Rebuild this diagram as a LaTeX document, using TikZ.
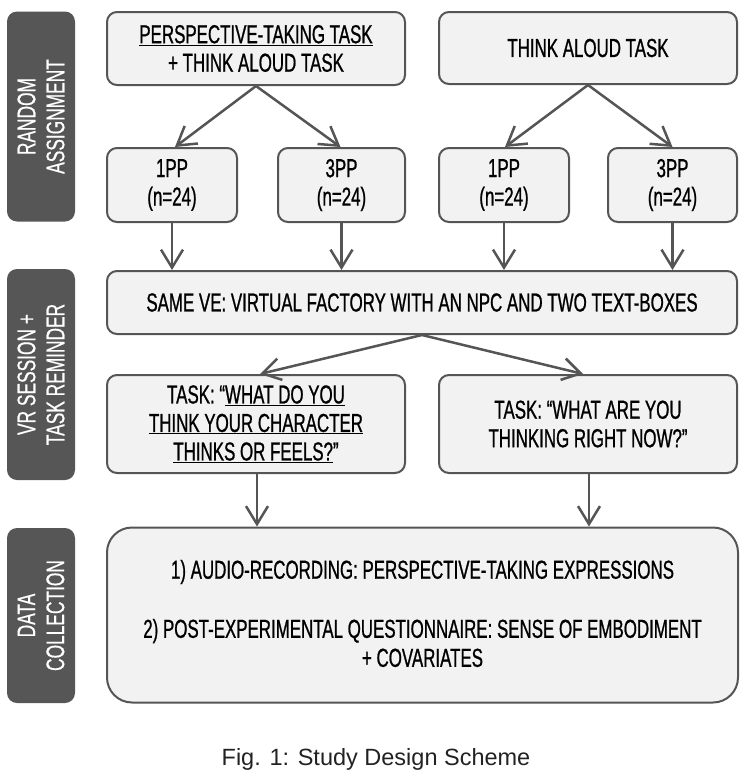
\documentclass[tikz,border=0pt]{standalone}
\usepackage{fontspec}
\setmainfont{Liberation Sans}
\newfontfamily\condfont[FakeStretch=0.65,FakeBold=0.8]{Liberation Sans}
\newfontfamily\sidefont[FakeStretch=0.68,FakeBold=0.5]{Liberation Sans}
\usetikzlibrary{arrows.meta}
\definecolor{edgegray}{HTML}{555555}
\definecolor{boxfill}{HTML}{F2F2F2}
\definecolor{barfill}{HTML}{565656}
\definecolor{captxt}{HTML}{222222}
\tikzset{
  box/.style={draw=edgegray, fill=boxfill, line width=2pt, rounded corners=10pt,
    align=center, inner sep=0pt, font=\condfont\fontsize{26}{28.5}\selectfont},
  sidebar/.style={fill=barfill, rounded corners=10pt, inner sep=0pt,
    text=white, align=center, rotate=90,
    font=\sidefont\fontsize{25.5}{29}\selectfont},
  flow/.style={draw=edgegray, line width=2.5pt,
    -{Straight Barb[length=18pt,width=22pt,line width=2.5pt]}}
}
\begin{document}
\begin{tikzpicture}[x=1pt,y=-1pt]
\useasboundingbox (0,0) rectangle (743,779);
% side bars
\node[sidebar, minimum width=210pt, minimum height=68pt] (s1) at (41,116.5) {RANDOM\\ASSIGNMENT};
\node[sidebar, minimum width=211pt, minimum height=68pt] (s2) at (41,374.5) {VR SESSION +\\TASK REMINDER};
\node[sidebar, minimum width=175pt, minimum height=68pt] (s3) at (41,615.5) {DATA\\COLLECTION};
% top row
\node[box, minimum width=298pt, minimum height=73pt] (ptt) at (256,48.5) {\underline{PERSPECTIVE-TAKING TASK}\\+ THINK ALOUD TASK};
\node[box, minimum width=298pt, minimum height=72pt] (ta) at (588,48) {THINK ALOUD TASK};
% groups
\node[box, minimum width=130pt, minimum height=74pt] (p1) at (172,185) {1PP\\(n=24)};
\node[box, minimum width=127pt, minimum height=74pt] (p2) at (341.5,185) {3PP\\(n=24)};
\node[box, minimum width=130pt, minimum height=74pt] (p3) at (504,185) {1PP\\(n=24)};
\node[box, minimum width=129pt, minimum height=74pt] (p4) at (672.5,185) {3PP\\(n=24)};
% VE
\node[box, minimum width=630pt, minimum height=63pt] (ve) at (422,302.5) {SAME VE: VIRTUAL FACTORY WITH AN NPC AND TWO TEXT-BOXES};
% tasks
\node[box, minimum width=298pt, minimum height=98pt] (tl) at (256,424) {TASK: “\underline{WHAT DO YOU}\\\underline{THINK YOUR CHARACTER}\\\underline{THINKS OR FEELS?}”};
\node[box, minimum width=298pt, minimum height=98pt] (tr) at (588,424) {TASK: “WHAT ARE YOU\\THINKING RIGHT NOW?”};
% data collection
\node[box, rounded corners=25pt, minimum width=631pt, minimum height=175pt] (dc) at (422.5,615) {};
\node[font=\condfont\fontsize{26}{28.5}\selectfont] (dc1) at (422.5,572) {1) AUDIO-RECORDING: PERSPECTIVE-TAKING EXPRESSIONS};
\node[font=\condfont\fontsize{26}{29}\selectfont, align=center] (dc2) at (422.5,643) {2) POST-EXPERIMENTAL QUESTIONNAIRE: SENSE OF EMBODIMENT\\+ COVARIATES};
% caption
\node[text=captxt, font=\fontsize{23.5}{27}\selectfont] (cap) at (376,759) {Fig. 1: Study Design Scheme};
% connectors
\draw[flow] (ptt.south) -- ([xshift=3pt]p1.north);
\draw[flow] (ptt.south) -- ([xshift=-1pt]p2.north);
\draw[flow] (ta.south) -- ([xshift=1pt]p3.north);
\draw[flow] (ta.south) -- (p4.north);
\draw[flow] (p1.south) -- (p1.south |- ve.north);
\draw[flow] (p2.south) -- (p2.south |- ve.north);
\draw[flow] (p3.south) -- (p3.south |- ve.north);
\draw[flow] (p4.south) -- (p4.south |- ve.north);
\draw[flow] (ve.south) -- ([xshift=4pt]tl.north);
\draw[flow] (ve.south) -- ([xshift=-5pt]tr.north);
\draw[flow] ([xshift=1pt]tl.south) -- ([xshift=1pt]tl.south |- dc.north);
\draw[flow] ([xshift=1pt]tr.south) -- ([xshift=1pt]tr.south |- dc.north);
\end{tikzpicture}
\end{document}
